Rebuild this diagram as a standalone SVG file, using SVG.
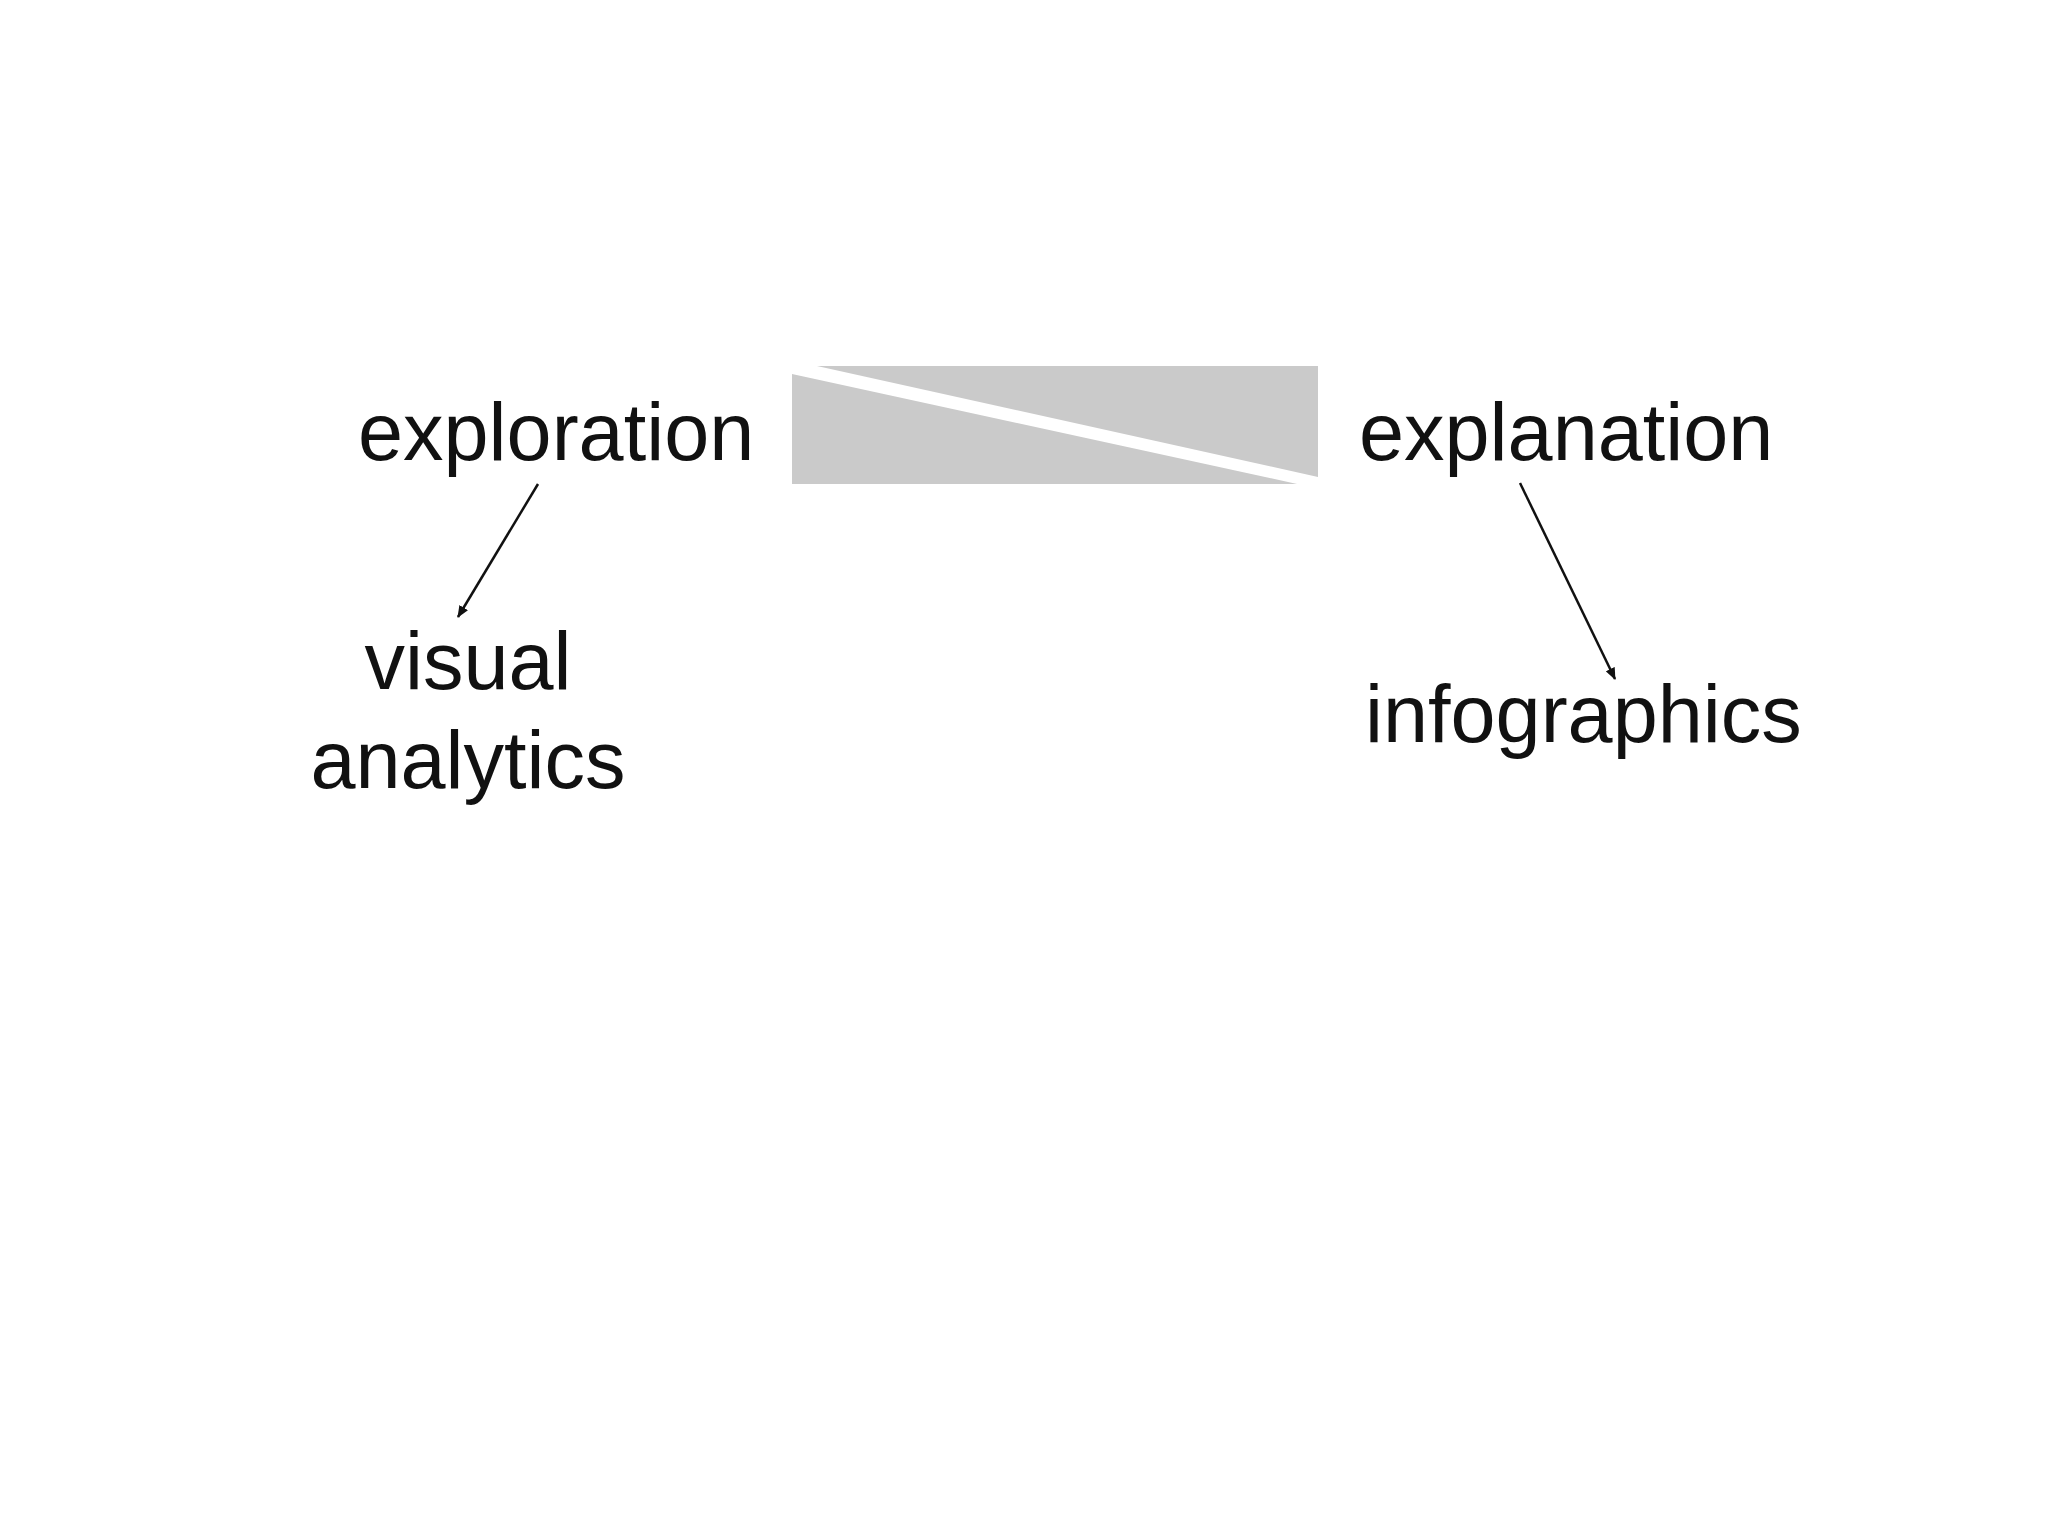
<svg xmlns="http://www.w3.org/2000/svg" width="2048" height="1536" viewBox="0 0 2048 1536">
<style>text{font-family:"Liberation Sans",Arial,sans-serif;font-size:81px;fill:#111}.c{stroke:#111;stroke-width:2.5;fill:none;marker-end:url(#a)}</style>
<defs><marker id="a" markerWidth="12" markerHeight="10" refX="11" refY="5" orient="auto" markerUnits="userSpaceOnUse"><path d="M0,0L12,5L0,10z" fill="#111"/></marker></defs>
<rect width="2048" height="1536" fill="#fff"/>
<g id="band"><polygon points="792,374 1297,484 792,484" fill="#cacaca"/><polygon points="817,366 1318,366 1318,477" fill="#cacaca"/></g>
<g id="exploration"><text x="358" y="460">exploration</text></g>
<g id="explanation"><text x="1359" y="460">explanation</text></g>
<g id="visual-analytics"><text x="468" y="689" text-anchor="middle">visual</text><text x="468" y="788" text-anchor="middle">analytics</text></g>
<g id="infographics"><text x="1365" y="742">infographics</text></g>
<g id="connectors"><line class="c" x1="538" y1="484" x2="458" y2="617"/><line class="c" x1="1520" y1="483" x2="1615" y2="679"/></g>
</svg>
